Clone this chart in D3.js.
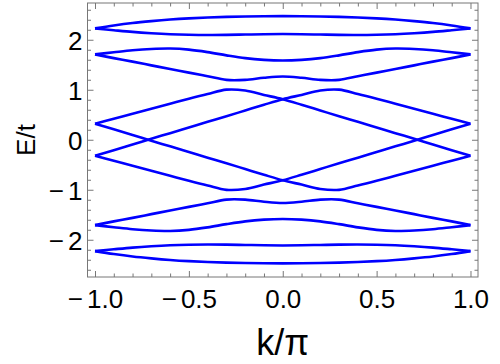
<!DOCTYPE html>
<html><head><meta charset="utf-8">
<script src="https://cdn.jsdelivr.net/npm/d3@7"></script>
<style>html,body{margin:0;padding:0;background:#fff;} svg{display:block;}</style>
</head><body><svg id="c" width="500" height="364"></svg>
<script>
// ---- data ----
const kValues = [-1.0,-0.9,-0.8,-0.7,-0.6,-0.5,-0.4,-0.3,-0.2,-0.1,0.0,0.1,0.2,0.3,0.4,0.5,0.6,0.7,0.8,0.9,1.0];
const band1 = [2.227,2.285,2.334,2.372,2.404,2.428,2.445,2.457,2.466,2.471,2.473,2.471,2.466,2.457,2.445,2.428,2.404,2.372,2.334,2.285,2.227];
const band2 = [2.227,2.191,2.157,2.131,2.111,2.099,2.094,2.097,2.104,2.111,2.114,2.111,2.104,2.097,2.094,2.099,2.111,2.131,2.157,2.191,2.227];
const band3 = [1.707,1.749,1.789,1.815,1.824,1.802,1.752,1.688,1.632,1.598,1.585,1.598,1.632,1.688,1.752,1.802,1.824,1.815,1.789,1.749,1.707];
const band4 = [1.707,1.633,1.562,1.488,1.414,1.343,1.270,1.197,1.198,1.240,1.265,1.240,1.198,1.197,1.270,1.343,1.414,1.488,1.562,1.633,1.707];
const line1 = [0.32,0.42,0.52,0.62,0.72,0.82,0.915,1.002,0.985,0.897,0.81,0.70,0.585,0.47,0.358,0.245,0.132,0.02,-0.095,-0.208,-0.32];
const line2 = [-0.32,-0.208,-0.095,0.02,0.132,0.245,0.358,0.47,0.585,0.70,0.81,0.897,0.985,1.002,0.915,0.82,0.72,0.62,0.52,0.42,0.32];
const line3 = [-0.32,-0.42,-0.52,-0.62,-0.72,-0.82,-0.915,-1.002,-0.985,-0.897,-0.81,-0.70,-0.585,-0.47,-0.358,-0.245,-0.132,-0.02,0.095,0.208,0.32];
const line4 = [0.32,0.208,0.095,-0.02,-0.132,-0.245,-0.358,-0.47,-0.585,-0.70,-0.81,-0.897,-0.985,-1.002,-0.915,-0.82,-0.72,-0.62,-0.52,-0.42,-0.32];
const band9  = [-1.707,-1.633,-1.562,-1.488,-1.414,-1.343,-1.270,-1.197,-1.198,-1.240,-1.265,-1.240,-1.198,-1.197,-1.270,-1.343,-1.414,-1.488,-1.562,-1.633,-1.707];
const band10 = [-1.707,-1.749,-1.789,-1.815,-1.824,-1.802,-1.752,-1.688,-1.632,-1.598,-1.585,-1.598,-1.632,-1.688,-1.752,-1.802,-1.824,-1.815,-1.789,-1.749,-1.707];
const band11 = [-2.227,-2.191,-2.157,-2.131,-2.111,-2.099,-2.094,-2.097,-2.104,-2.111,-2.114,-2.111,-2.104,-2.097,-2.094,-2.099,-2.111,-2.131,-2.157,-2.191,-2.227];
const band12 = [-2.227,-2.285,-2.334,-2.372,-2.404,-2.428,-2.445,-2.457,-2.466,-2.471,-2.473,-2.471,-2.466,-2.457,-2.445,-2.428,-2.404,-2.372,-2.334,-2.285,-2.227];

const xTickValues = [-1, -0.5, 0, 0.5, 1];
const xTickLabels = ["\u22121.0", "\u22120.5", "0.0", "0.5", "1.0"];
const xMinorTicks = [-0.9,-0.8,-0.7,-0.6,-0.4,-0.3,-0.2,-0.1,0.1,0.2,0.3,0.4,0.6,0.7,0.8,0.9];
const yTickValues = [-2, -1, 0, 1, 2];
const yTickLabels = ["\u22122", "\u22121", "0", "1", "2"];
const yMinorTicks = [-2.6,-2.4,-2.2,-1.8,-1.6,-1.4,-1.2,-0.8,-0.6,-0.4,-0.2,0.2,0.4,0.6,0.8,1.2,1.4,1.6,1.8,2.2,2.4,2.6];
const xLabel = "k/\u03C0";
const yLabel = "E/t";

// ---- drawing ----
const svg = d3.select("#c");
const L = 87.5, R = 478, T = 3, B = 277;
const x = d3.scaleLinear().domain([-1.04, 1.04]).range([L, R]);
const y = d3.scaleLinear().domain([-2.745, 2.735]).range([B, T]);
const font = "'Liberation Sans', Arial, sans-serif";
const frameColor = "#777";

const allBands = [band1, band2, band3, band4, line1, line2, line3, line4, band9, band10, band11, band12];
const line = d3.line()
  .x((d, i) => x(kValues[i]))
  .y(d => y(d))
  .curve(d3.curveCatmullRom.alpha(0.5));

svg.append("clipPath").attr("id", "pc").append("rect")
  .attr("x", L).attr("y", T).attr("width", R - L).attr("height", B - T);

svg.append("g").attr("clip-path", "url(#pc)")
  .selectAll("path").data(allBands).join("path")
  .attr("d", line)
  .attr("fill", "none")
  .attr("stroke", "#0000ff")
  .attr("stroke-width", 2.6)
  .attr("stroke-linejoin", "round");

function styleAxis(g) {
  g.select(".domain").remove();
  g.selectAll(".tick line").attr("stroke", frameColor).attr("stroke-width", 1);
  g.selectAll("text").attr("fill", "#000").style("font-family", font).style("font-size", "26px");
}
// split a leading minus into its own tspan with extra spacing (Mathematica-like)
function minusSpacing(sel) {
  sel.each(function () {
    const t = d3.select(this);
    const s = t.text();
    if (s.startsWith("\u2212")) {
      t.text(null);
      t.append("tspan").text("\u2212");
      t.append("tspan").attr("dx", 4).text(s.slice(1));
    }
  });
}

// bottom major
svg.append("g").attr("transform", `translate(0,${B})`)
  .call(d3.axisBottom(x).tickValues(xTickValues).tickSizeInner(-6).tickSizeOuter(0).tickPadding(12.5)
    .tickFormat((d, i) => xTickLabels[i]))
  .call(styleAxis)
  .selectAll("text").call(minusSpacing);
// bottom minor
svg.append("g").attr("transform", `translate(0,${B})`)
  .call(d3.axisBottom(x).tickValues(xMinorTicks).tickSizeInner(-3.5).tickSizeOuter(0).tickFormat(""))
  .call(styleAxis);
// top major/minor
svg.append("g").attr("transform", `translate(0,${T})`)
  .call(d3.axisTop(x).tickValues(xTickValues).tickSizeInner(-6).tickSizeOuter(0).tickFormat(""))
  .call(styleAxis);
svg.append("g").attr("transform", `translate(0,${T})`)
  .call(d3.axisTop(x).tickValues(xMinorTicks).tickSizeInner(-3.5).tickSizeOuter(0).tickFormat(""))
  .call(styleAxis);
// left major
svg.append("g").attr("transform", `translate(${L},0)`)
  .call(d3.axisLeft(y).tickValues(yTickValues).tickSizeInner(-6).tickSizeOuter(0).tickPadding(5)
    .tickFormat((d, i) => yTickLabels[i]))
  .call(styleAxis)
  .selectAll("text").attr("dy", "0.37em").call(minusSpacing);
// left minor
svg.append("g").attr("transform", `translate(${L},0)`)
  .call(d3.axisLeft(y).tickValues(yMinorTicks).tickSizeInner(-3.5).tickSizeOuter(0).tickFormat(""))
  .call(styleAxis);
// right major/minor
svg.append("g").attr("transform", `translate(${R},0)`)
  .call(d3.axisRight(y).tickValues(yTickValues).tickSizeInner(-6).tickSizeOuter(0).tickFormat(""))
  .call(styleAxis);
svg.append("g").attr("transform", `translate(${R},0)`)
  .call(d3.axisRight(y).tickValues(yMinorTicks).tickSizeInner(-3.5).tickSizeOuter(0).tickFormat(""))
  .call(styleAxis);

// frame
svg.append("rect")
  .attr("x", L).attr("y", T).attr("width", R - L).attr("height", B - T)
  .attr("fill", "none").attr("stroke", frameColor).attr("stroke-width", 1);

// axis labels
svg.append("text")
  .attr("x", (L + R) / 2).attr("y", 355)
  .attr("text-anchor", "middle")
  .style("font-family", font).style("font-size", "36px")
  .text(xLabel);
svg.append("text")
  .attr("transform", `translate(35,${(T + B) / 2}) rotate(-90)`)
  .attr("text-anchor", "middle")
  .style("font-family", font).style("font-size", "26px")
  .text(yLabel);
</script>
</body></html>
